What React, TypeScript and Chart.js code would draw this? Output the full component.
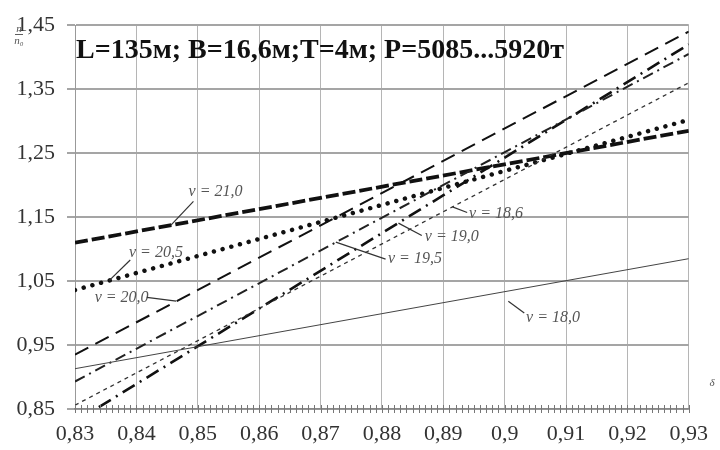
import React, { useEffect, useRef } from "react";
import { Chart, registerables } from "chart.js";
Chart.register(...registerables);

const xVals = [0.83, 0.93];
const v210 = [1.11, 1.285];
const v205 = [1.036, 1.302];
const v200 = [0.935, 1.44];
const v195 = [0.893, 1.405];
const v190 = [0.83, 1.42];
const v186 = [0.856, 1.36];
const v180 = [0.913, 1.085];

const xTicks = [0.83, 0.84, 0.85, 0.86, 0.87, 0.88, 0.89, 0.9, 0.91, 0.92, 0.93];
const xTickLabels = ["0,83", "0,84", "0,85", "0,86", "0,87", "0,88", "0,89", "0,9", "0,91", "0,92", "0,93"];
const yTicks = [0.85, 0.95, 1.05, 1.15, 1.25, 1.35, 1.45];
const yTickLabels = ["0,85", "0,95", "1,05", "1,15", "1,25", "1,35", "1,45"];

const titleText = "L=135м; B=16,6м;T=4м; P=5085...5920т";

// annotation labels: text, text anchor (data), pointer start (data), pointer end (data)
const labelTexts = ["v = 21,0", "v = 20,5", "v = 20,0", "v = 19,5", "v = 19,0", "v = 18,6", "v = 18,0"];
const labelAnchors = [
  [0.8485, 1.1823],
  [0.8388, 1.0875],
  [0.8332, 1.0169],
  [0.881, 1.0782],
  [0.887, 1.1134],
  [0.8942, 1.1486],
  [0.9035, 0.9863],
];
const pointerFrom = [
  [0.8493, 1.1747],
  [0.839, 1.0829],
  [0.8417, 1.0246],
  [0.8806, 1.0843],
  [0.8865, 1.1211],
  [0.8939, 1.1571],
  [0.9032, 1.0001],
];
const pointerTo = [
  [0.8456, 1.1372],
  [0.8356, 1.051],
  [0.8465, 1.0185],
  [0.8725, 1.1108],
  [0.8827, 1.1406],
  [0.8915, 1.1659],
  [0.9006, 1.0184],
];

const pts = (ys: number[]) => ys.map((y, i) => ({ x: xVals[i], y }));

export default function App() {
  const ref = useRef<HTMLCanvasElement | null>(null);
  useEffect(() => {
    if (!ref.current) return;
    const serif = "'Liberation Serif', 'DejaVu Serif', serif";
    const annot = {
      id: "annot",
      afterDatasetsDraw(chart: any) {
        const ctx = chart.ctx;
        const xs = chart.scales.x;
        const ys = chart.scales.y;
        const area = chart.chartArea;
        ctx.save();
        // minor ticks on x axis
        ctx.strokeStyle = "#777";
        ctx.lineWidth = 1;
        for (let i = 0; i <= 100; i++) {
          const v = 0.83 + i * 0.001;
          const px = Math.round(xs.getPixelForValue(v)) + 0.5;
          ctx.beginPath();
          ctx.moveTo(px, area.bottom - 4);
          ctx.lineTo(px, area.bottom + 4);
          ctx.stroke();
        }
        // title
        ctx.fillStyle = "#111";
        ctx.font = "bold 28px " + serif;
        ctx.textAlign = "left";
        ctx.textBaseline = "alphabetic";
        ctx.fillText(titleText, area.left + 1, area.top + 33);
        // labels
        ctx.font = "italic 16px " + serif;
        ctx.fillStyle = "#555";
        ctx.strokeStyle = "#333";
        ctx.lineWidth = 1.2;
        for (let i = 0; i < labelTexts.length; i++) {
          ctx.fillText(labelTexts[i], xs.getPixelForValue(labelAnchors[i][0]), ys.getPixelForValue(labelAnchors[i][1]));
          ctx.beginPath();
          ctx.moveTo(xs.getPixelForValue(pointerFrom[i][0]), ys.getPixelForValue(pointerFrom[i][1]));
          ctx.lineTo(xs.getPixelForValue(pointerTo[i][0]), ys.getPixelForValue(pointerTo[i][1]));
          ctx.stroke();
        }
        // y axis symbol (fraction)
        ctx.fillStyle = "#555";
        ctx.font = "italic 11px " + serif;
        ctx.textAlign = "center";
        ctx.fillText("п", 19, 32);
        ctx.fillText("п₀", 19, 44);
        ctx.beginPath();
        ctx.lineWidth = 0.8;
        ctx.moveTo(15, 34.5);
        ctx.lineTo(23, 34.5);
        ctx.stroke();
        // x axis symbol
        ctx.fillText("δ", 712, 386);
        ctx.restore();
      },
    };
    const chart = new Chart(ref.current, {
      type: "line",
      data: {
        datasets: [
          { label: "v=18,0", data: pts(v180), borderColor: "#444", borderWidth: 1, pointRadius: 0 },
          { label: "v=18,6", data: pts(v186), borderColor: "#333", borderWidth: 1.3, borderDash: [4, 4], pointRadius: 0 },
          { label: "v=19,5", data: pts(v195), borderColor: "#222", borderWidth: 2, borderDash: [11, 5, 2, 5], pointRadius: 0 },
          { label: "v=19,0", data: pts(v190), borderColor: "#111", borderWidth: 2.6, borderDash: [14, 6, 2, 6], pointRadius: 0 },
          { label: "v=20,0", data: pts(v200), borderColor: "#111", borderWidth: 2, borderDash: [15, 8], pointRadius: 0 },
          { label: "v=20,5", data: pts(v205), borderColor: "#111", borderWidth: 4.5, borderDash: [0.01, 9], borderCapStyle: "round", pointRadius: 0 },
          { label: "v=21,0", data: pts(v210), borderColor: "#111", borderWidth: 3.8, borderDash: [13, 4], pointRadius: 0 },
        ] as any,
      },
      options: {
        animation: false,
        responsive: false,
        layout: { padding: { top: 17, right: 22, left: 0, bottom: 0 } },
        plugins: { legend: { display: false }, tooltip: { enabled: false }, title: { display: false } },
        scales: {
          x: {
            type: "linear",
            min: 0.83,
            max: 0.93,
            afterBuildTicks: (s: any) => {
              s.ticks = xTicks.map((v) => ({ value: v }));
            },
            afterFit: (s: any) => {
              s.height = 41;
            },
            ticks: {
              callback: (_v: any, i: number) => xTickLabels[i],
              font: { family: serif, size: 22 },
              color: "#333",
              padding: 12,
              maxRotation: 0,
              autoSkip: false,
            },
            grid: { color: "#b5b5b5", lineWidth: 1, drawTicks: false },
            border: { color: "#888", width: 1.5 },
          },
          y: {
            type: "linear",
            min: 0.85,
            max: 1.45,
            afterBuildTicks: (s: any) => {
              s.ticks = yTicks.map((v) => ({ value: v }));
            },
            afterFit: (s: any) => {
              s.width = 75;
            },
            ticks: {
              callback: (_v: any, i: number) => yTickLabels[i],
              font: { family: serif, size: 22 },
              color: "#333",
              padding: 12,
              autoSkip: false,
            },
            grid: { color: "#a5a5a5", lineWidth: 2, tickLength: 8 },
            border: { color: "#999", width: 1 },
          },
        },
      },
      plugins: [annot],
    });
    return () => chart.destroy();
  }, []);
  return (
    <div style={{ position: "fixed", left: 0, top: 0, width: 720, height: 450, background: "#fff" }}>
      <canvas ref={ref} width={720} height={450} style={{ width: 720, height: 450 }} />
    </div>
  );
}
